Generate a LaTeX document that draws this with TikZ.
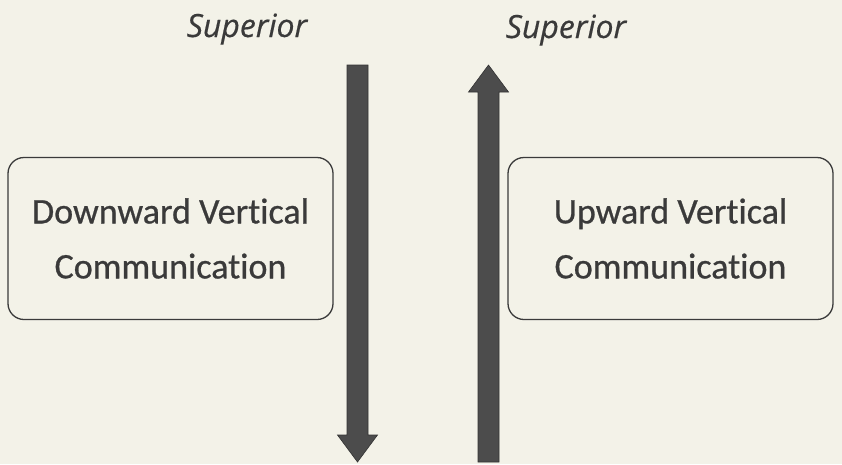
\documentclass[tikz,border=0pt]{standalone}
\usepackage{fontspec}
\setmainfont{Carlito}[Ligatures=NoCommon]
\newfontfamily\boxfont{Carlito}[Ligatures=NoCommon,
  BoldFont=Carlito, BoldFeatures={FakeBold=0.7}]
\newfontfamily\labelfont{Open Sans}[ItalicFeatures={FakeBold=0.5}]
\definecolor{paper}{RGB}{243,242,232}
\definecolor{ink}{RGB}{58,58,58}
\begin{document}
\begin{tikzpicture}[x=1pt,y=-1pt,
  commbox/.style={draw=ink, line width=1.3pt, rounded corners=16pt,
    minimum width=325pt, minimum height=162pt, align=center,
    font=\boxfont\bfseries\fontsize{36}{55}\selectfont, text=ink},
  levellabel/.style={font=\labelfont\itshape\fontsize{32}{36}\selectfont, text=ink},
  flowarrow/.style={fill=black!70, draw=black!80, line width=0.6pt, line join=miter}]
% page
\fill[paper] (0,0) rectangle (842,464);
\useasboundingbox (0,0) rectangle (842,464);

% boxes
\node[commbox] (down) at (170.5,238.5) {Downward Vertical\\Communication};
\node[commbox] (up)   at (670.5,238.5) {Upward Vertical\\Communication};

% labels
\node[levellabel, anchor=base] (supL) at (247,37) {Superior};
\node[levellabel, anchor=base] (supR) at (566,38) {Superior};

% downward arrow
\coordinate (dtop) at (357.5,65);
\coordinate (dtip) at (357.5,462);
\fill[flowarrow] (347,65) -- (368,65) -- (368,435) -- (377.5,435)
  -- (dtip) -- (337.5,435) -- (347,435) -- cycle;

% upward arrow
\coordinate (utip) at (488.5,65);
\coordinate (ubot) at (488.5,462);
\fill[flowarrow] (478,462) -- (499,462) -- (499,92) -- (508.5,92)
  -- (utip) -- (468.5,92) -- (478,92) -- cycle;
\end{tikzpicture}
\end{document}
